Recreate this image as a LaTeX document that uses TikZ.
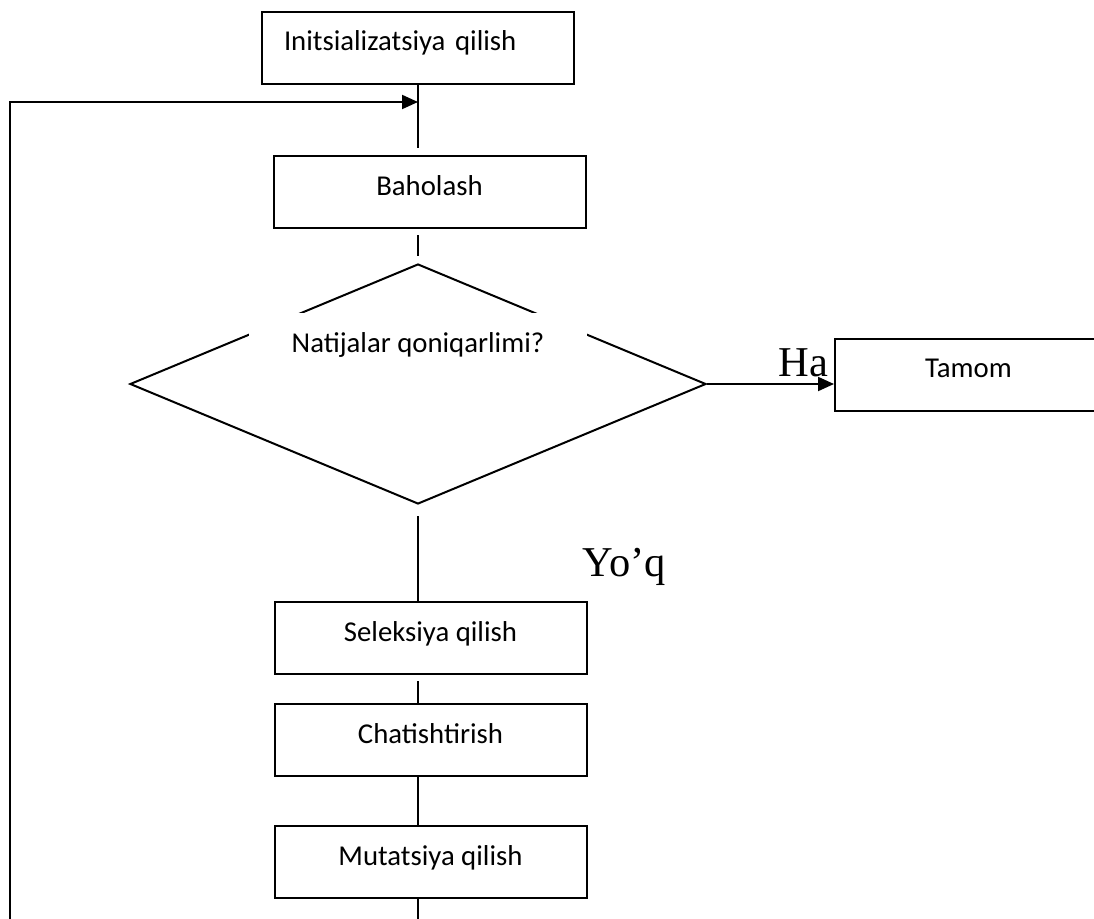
\documentclass[tikz,border=0pt]{standalone}
\usepackage{fontspec}
\setmainfont{Carlito}
\newfontfamily\timesfont{Liberation Serif}
\usepackage{tikz}
\usetikzlibrary{positioning, shapes.geometric, arrows.meta}

\begin{document}
\begin{tikzpicture}[x=0.4pt, y=-0.4pt, node distance=40pt, on grid,
    every node/.style={font=\fontsize{11.5}{14}\selectfont},
    block/.style={draw, line width=0.8pt, minimum width=124.8pt, minimum height=28.8pt,
        text height=8pt, text depth=5.6pt, inner sep=0pt},
    decision/.style={draw, diamond, line width=0.8pt, minimum width=230.4pt,
        minimum height=96pt, inner sep=0pt},
    answer/.style={font=\timesfont\fontsize{17}{20}\selectfont},
    link/.style={line width=0.8pt},
    arr/.style={link, -{Triangle[length=6.4pt, width=5.6pt]}}]
    \clip (0,0) rectangle (1094,919);

    \node[block, align=left, text width=107.2pt, inner xsep=8.8pt] (init) at (418,48) {Initsializatsiya qilish};
    \node[block, below right=57.6pt and 4.6pt of init] (bah) {Baholash};
    \node[decision, below=134.4pt of init] (dec) {};
    \node[fill=white, minimum width=135.2pt, text height=15.6pt, text depth=12pt,
        inner sep=0pt, above=14.6pt of dec] (dectext) {Natijalar qoniqarlimi?};
    \node[block, minimum width=106.8pt, above right=3.8pt and 220.2pt of dec] (tam) {Tamom};
    \node[block, below right=101.6pt and 5pt of dec] (sel) {Seleksiya qilish};
    \node[block, below=40.8pt of sel] (cha) {Chatishtirish};
    \node[block, below=48.8pt of cha] (mut) {Mutatsiya qilish};
    \node[answer, anchor=base west] (no) at (574,576) {Yo’q};

    % loop back corners
    \coordinate (entry) at (init.south |- 0,102);
    \coordinate (corner) at (10,102);
    \coordinate (bot) at (dec.south |- 0,935);

    \draw[link, shorten >=2.8pt] (init.south) -- (init.south |- bah.north);
    \draw[link, shorten <=2.4pt, shorten >=2.8pt] (dec.north |- bah.south) -- (dec.north);
    \draw[arr] (dec.east) -- (dec.east -| tam.west)
        node[answer, pos=1, anchor=south east, inner xsep=2pt, inner ysep=2.4pt] {Ha};
    \draw[link, shorten <=4.4pt] (dec.south) -- (dec.south |- sel.north);
    \draw[link, shorten <=2.4pt] (dec.south |- sel.south) -- (dec.south |- cha.north);
    \draw[link] (dec.south |- cha.south) -- (dec.south |- mut.north);
    \draw[arr] (dec.south |- mut.south) -- (bot) -| (corner) -- (entry);
\end{tikzpicture}
\end{document}
